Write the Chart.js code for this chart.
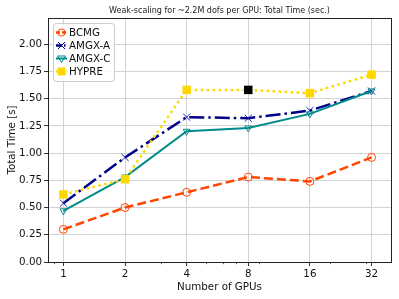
<!DOCTYPE html>
<html>
<head>
<meta charset="utf-8">
<script src="https://cdn.jsdelivr.net/npm/chart.js@4/dist/chart.umd.min.js"></script>
<style>
  html, body { margin: 0; padding: 0; background: #fff; }
  #wrap { width: 399px; height: 299px; }
</style>
</head>
<body>
<div id="wrap"><canvas id="timeChart" width="399" height="299"></canvas></div>
<script>
// data
const gpus = [1, 2, 4, 8, 16, 32];
const bcmg = [0.30, 0.50, 0.64, 0.78, 0.74, 0.96];
const amgxA = [0.54, 0.96, 1.33, 1.32, 1.39, 1.57];
const amgxC = [0.47, 0.78, 1.20, 1.23, 1.36, 1.57];
const hypre = [0.62, 0.76, 1.58, 1.58, 1.55, 1.72];
const yTicks = [0, 0.25, 0.5, 0.75, 1.0, 1.25, 1.5, 1.75, 2.0];
const xMinorTicks = [0.9, 3, 5, 6, 7, 9, 20, 30];
const titleText = "Weak-scaling for ~2.2M dofs per GPU: Total Time (sec.)";

const FONT = "'DejaVu Sans', sans-serif";
const ORANGE = "#ff4500", NAVY = "#00008b", CYAN = "#008b8b", GOLD = "#ffd700";

function pts(vals) {
    return gpus.map((g, i) => ({ x: g, y: vals[i] }));
}

// marker painter, used by the legend
function marker(ctx, style, color, x, y, fill) {
    ctx.save();
    ctx.strokeStyle = color;
    ctx.fillStyle = fill || color;
    ctx.setLineDash([]);
    ctx.lineWidth = 1;
    ctx.beginPath();
    if (style === "circle") {
        ctx.arc(x, y, 3.6, 0, Math.PI * 2);
        ctx.stroke();
    } else if (style === "crossRot") {
        ctx.moveTo(x - 3.5, y - 3.5); ctx.lineTo(x + 3.5, y + 3.5);
        ctx.moveTo(x + 3.5, y - 3.5); ctx.lineTo(x - 3.5, y + 3.5);
        ctx.stroke();
    } else if (style === "triangleDown") {
        ctx.moveTo(x - 4, y - 2.5); ctx.lineTo(x + 4, y - 2.5); ctx.lineTo(x, y + 4);
        ctx.closePath();
        ctx.stroke();
    } else {
        ctx.fillRect(x - 4, y - 4, 8, 8);
    }
    ctx.restore();
}

const legendItems = [
    { label: "BCMG", color: ORANGE, marker: "circle", dash: [4, 2], width: 2.5 },
    { label: "AMGX-A", color: NAVY, marker: "crossRot", dash: [6, 2, 1.5, 2], width: 2.5 },
    { label: "AMGX-C", color: CYAN, marker: "triangleDown", dash: [], width: 2 },
    { label: "HYPRE", color: GOLD, marker: "square", dash: [1.5, 2], width: 2.5 }
];

const decor = {
    id: "decor",
    afterDraw(chart) {
        const ctx = chart.ctx;
        const a = chart.chartArea;
        const xs = chart.scales.x;

        // minor ticks on the log axis
        ctx.save();
        ctx.strokeStyle = "#333";
        ctx.lineWidth = 0.8;
        xMinorTicks.forEach(v => {
            const px = Math.round(xs.getPixelForValue(v)) + 0.5;
            ctx.beginPath();
            ctx.moveTo(px, a.bottom);
            ctx.lineTo(px, a.bottom + 2.2);
            ctx.stroke();
        });

        // frame
        ctx.strokeStyle = "#222";
        ctx.lineWidth = 1;
        ctx.strokeRect(Math.round(a.left) + 0.5, Math.round(a.top) + 0.5,
            Math.round(a.right - a.left), Math.round(a.bottom - a.top));

        // title
        ctx.fillStyle = "#222";
        ctx.font = "8px " + FONT;
        ctx.textAlign = "center";
        ctx.textBaseline = "alphabetic";
        ctx.fillText(titleText, (a.left + a.right) / 2, a.top - 5);

        // legend box
        const lx = a.left + 5, ly = a.top + 5, lw = 61, lh = 58;
        ctx.beginPath();
        ctx.roundRect(lx + 0.5, ly + 0.5, lw, lh, 3);
        ctx.fillStyle = "rgba(255,255,255,0.85)";
        ctx.fill();
        ctx.strokeStyle = "#cccccc";
        ctx.stroke();

        ctx.font = "10.3px " + FONT;
        ctx.textAlign = "left";
        ctx.textBaseline = "middle";
        legendItems.forEach((it, i) => {
            const cy = ly + 9.5 + i * 13;
            ctx.save();
            ctx.strokeStyle = it.color;
            ctx.lineWidth = it.width;
            ctx.setLineDash(it.dash);
            ctx.beginPath();
            ctx.moveTo(lx + 3, cy);
            ctx.lineTo(lx + 14, cy);
            ctx.stroke();
            ctx.restore();
            marker(ctx, it.marker, it.color, lx + 8.5, cy, it.marker === "circle" || it.marker === "triangleDown" ? "transparent" : null);
            ctx.fillStyle = "#111";
            ctx.fillText(it.label, lx + 16, cy + 0.5);
        });
        ctx.restore();
    }
};

const ctx = document.getElementById("timeChart").getContext("2d");
const timeChart = new Chart(ctx, {
    type: "line",
    data: {
        datasets: [{
            label: "BCMG",
            data: pts(bcmg),
            borderColor: ORANGE,
            borderWidth: 2.5,
            borderDash: [9, 4],
            pointStyle: "circle",
            pointRadius: 4,
            pointBorderWidth: 1,
            pointBorderColor: ORANGE,
            pointBackgroundColor: "rgba(0,0,0,0)",
            order: 4
        }, {
            label: "AMGX-A",
            data: pts(amgxA),
            borderColor: NAVY,
            borderWidth: 2.5,
            borderDash: [15, 4, 2.5, 4],
            pointStyle: "crossRot",
            pointRadius: 5,
            pointBorderWidth: 1,
            pointBorderColor: "#1f1fb0",
            order: 3
        }, {
            label: "AMGX-C",
            data: pts(amgxC),
            borderColor: CYAN,
            borderWidth: 2,
            pointStyle: "triangle",
            pointRotation: 180,
            pointRadius: 4,
            pointBorderWidth: 1,
            pointBorderColor: CYAN,
            pointBackgroundColor: "rgba(0,0,0,0)",
            order: 2
        }, {
            label: "HYPRE",
            data: pts(hypre),
            borderColor: GOLD,
            borderWidth: 2.5,
            borderDash: [2.5, 3.5],
            pointStyle: "rect",
            pointRadius: 6,
            pointBorderWidth: 0,
            pointBackgroundColor: c => (c.raw && c.raw.x === 8 ? "#000" : GOLD),
            order: 1
        }]
    },
    options: {
        responsive: false,
        animation: false,
        layout: { padding: { top: 18, right: 8, left: 0, bottom: 0 } },
        plugins: {
            legend: { display: false },
            tooltip: { enabled: false }
        },
        scales: {
            x: {
                type: "logarithmic",
                min: Math.pow(2, -0.25),
                max: Math.pow(2, 5.316),
                afterBuildTicks: s => { s.ticks = gpus.map(v => ({ value: v })); },
                afterFit: s => { s.height = 37; },
                ticks: {
                    autoSkip: false,
                    maxRotation: 0,
                    padding: 2,
                    color: "#111",
                    font: { family: FONT, size: 10.3 },
                    callback: v => String(v)
                },
                grid: { color: "#d3d3d3", tickColor: "#333", tickLength: 4 },
                border: { color: "#222" },
                title: {
                    display: true,
                    text: "Number of GPUs",
                    color: "#111",
                    font: { family: FONT, size: 10.3 },
                    padding: { top: 0, bottom: 5 }
                }
            },
            y: {
                min: 0,
                max: 2.24,
                afterBuildTicks: s => { s.ticks = yTicks.map(v => ({ value: v })); },
                afterFit: s => { s.width = 48; },
                ticks: {
                    padding: 2,
                    color: "#111",
                    font: { family: FONT, size: 10.3 },
                    callback: v => v.toFixed(2)
                },
                grid: { color: "#d3d3d3", tickColor: "#333", tickLength: 4 },
                border: { color: "#222" },
                title: {
                    display: true,
                    text: "Total Time [s]",
                    color: "#111",
                    font: { family: FONT, size: 10.3 },
                    padding: { top: 6, bottom: 0 }
                }
            }
        }
    },
    plugins: [decor]
});
</script>
</body>
</html>
